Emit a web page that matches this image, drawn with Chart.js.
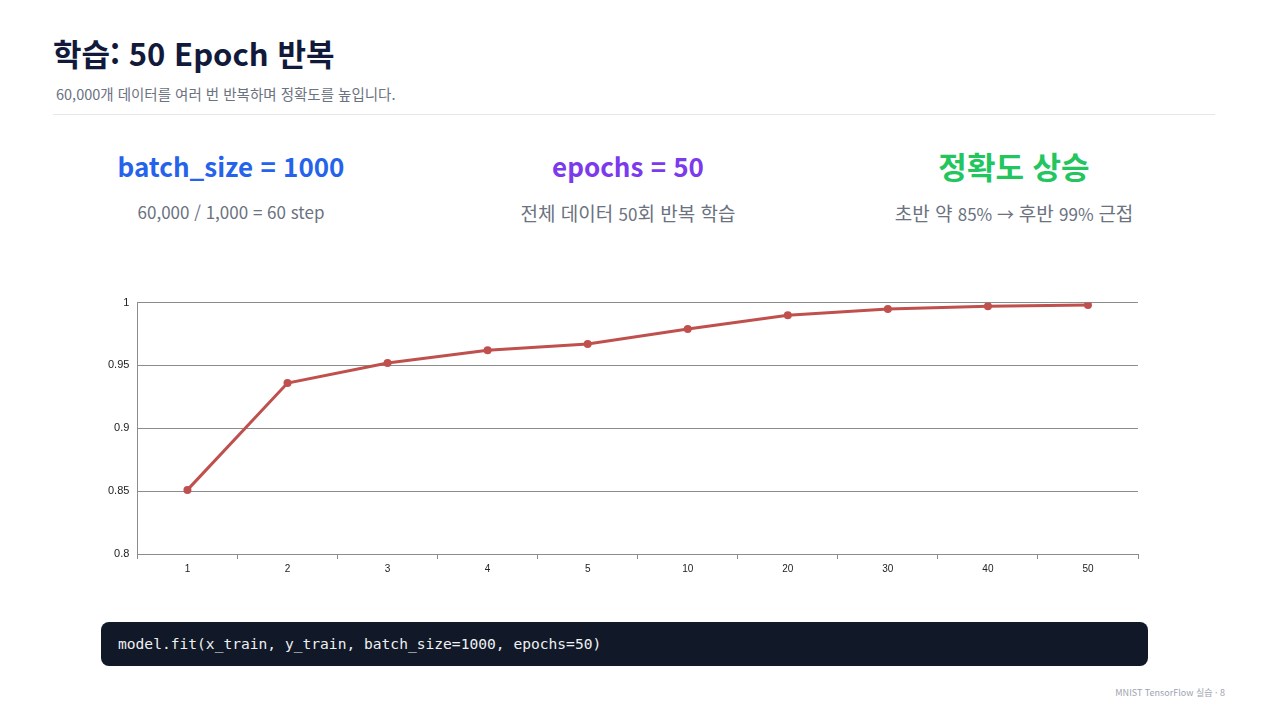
<!DOCTYPE html>
<html lang="ko">
<head>
<meta charset="utf-8">
<script src="https://cdn.jsdelivr.net/npm/chart.js@4.4.1/dist/chart.umd.min.js"></script>
<style>
  html, body { margin: 0; padding: 0; background: #fff; }
  body { width: 1280px; height: 720px; position: relative; overflow: hidden;
         font-family: "Noto Sans CJK KR", "Noto Sans", sans-serif; }
  .title { position: absolute; left: 53px; top: 30px; font-size: 31px; font-weight: 700; color: #111a3a; }
  .sub { position: absolute; left: 56px; top: 83px; font-size: 14.5px; color: #6b7280; }
  .rule { position: absolute; left: 53px; top: 114px; width: 1162px; height: 1px; background: #e5e7eb; }
  .col { position: absolute; top: 145px; width: 400px; text-align: center; }
  .col h2 { margin: 0; font-size: 26px; font-weight: 700; line-height: 42px; }
  .col h2.ko { font-size: 31px; }
  .col p { margin: 12px 0 0; font-size: 17px; color: #6b7280; }
  .col p .k { font-size: 19px; }
  .code { position: absolute; left: 101px; top: 622px; width: 1047px; height: 44px; background: #111827;
          border-radius: 8px; color: #eef0f3; font-family: "DejaVu Sans Mono", monospace; font-size: 14.6px;
          line-height: 44px; padding-left: 17px; box-sizing: border-box; }
  .foot { position: absolute; right: 55px; top: 686px; font-size: 9px; color: #9ca3af; }
  #wrap { position: absolute; left: 100px; top: 288px; width: 1050px; height: 291px; }
</style>
</head>
<body>
<div class="title">학습: 50 Epoch 반복</div>
<div class="sub">60,000개 데이터를 여러 번 반복하며 정확도를 높입니다.</div>
<div class="rule"></div>

<div class="col" style="left:31px"><h2 style="color:#2563eb">batch_size = 1000</h2><p>60,000 / 1,000 = 60 step</p></div>
<div class="col" style="left:428px"><h2 style="color:#7c3aed">epochs = 50</h2><p><span class="k">전체 데이터 </span>50<span class="k">회 반복 학습</span></p></div>
<div class="col" style="left:814px"><h2 class="ko" style="color:#22c55e">정확도 상승</h2><p><span class="k">초반 약 </span>85% → <span class="k">후반 </span>99% <span class="k">근접</span></p></div>

<div id="wrap"><canvas id="myChart"></canvas></div>

<div class="code">model.fit(x_train, y_train, batch_size=1000, epochs=50)</div>
<div class="foot">MNIST TensorFlow 실습 · 8</div>

<script>
// epoch labels and accuracy
var epochLabels = ['1', '2', '3', '4', '5', '10', '20', '30', '40', '50'];
var accuracy = [0.851, 0.936, 0.952, 0.962, 0.967, 0.979, 0.990, 0.995, 0.997, 0.998];
var yTicks = [0.8, 0.85, 0.9, 0.95, 1];

var ctx = document.getElementById('myChart').getContext('2d');
var gridGrey = '#8c8c8c';

var myChart = new Chart(ctx, {
  type: 'line',
  data: {
    labels: epochLabels,
    datasets: [{
      label: 'accuracy',
      data: accuracy,
      borderColor: '#c0504d',
      backgroundColor: '#c0504d',
      borderWidth: 3,
      pointRadius: 4,
      pointBackgroundColor: '#c0504d',
      pointBorderWidth: 0,
      tension: 0
    }]
  },
  options: {
    responsive: true,
    maintainAspectRatio: false,
    animation: false,
    layout: { padding: { top: 4, right: 12 } },
    plugins: { legend: { display: false }, tooltip: { enabled: false } },
    scales: {
      x: {
        offset: true,
        grid: { display: true, drawOnChartArea: false, drawTicks: true, tickLength: 5, color: gridGrey, offset: true },
        border: { display: true, color: gridGrey },
        ticks: { color: '#222', font: { family: 'Liberation Sans', size: 10 }, padding: 4 }
      },
      y: {
        min: 0.8,
        max: 1,
        afterBuildTicks: function (axis) { axis.ticks = yTicks.map(function (v) { return { value: v }; }); },
        grid: { color: gridGrey, drawTicks: false },
        border: { display: true, color: gridGrey },
        ticks: {
          color: '#222', font: { family: 'Liberation Sans', size: 11 }, padding: 8,
          callback: function (v) { return String(Math.round(v * 100) / 100); }
        }
      }
    }
  }
});
</script>
</body>
</html>
